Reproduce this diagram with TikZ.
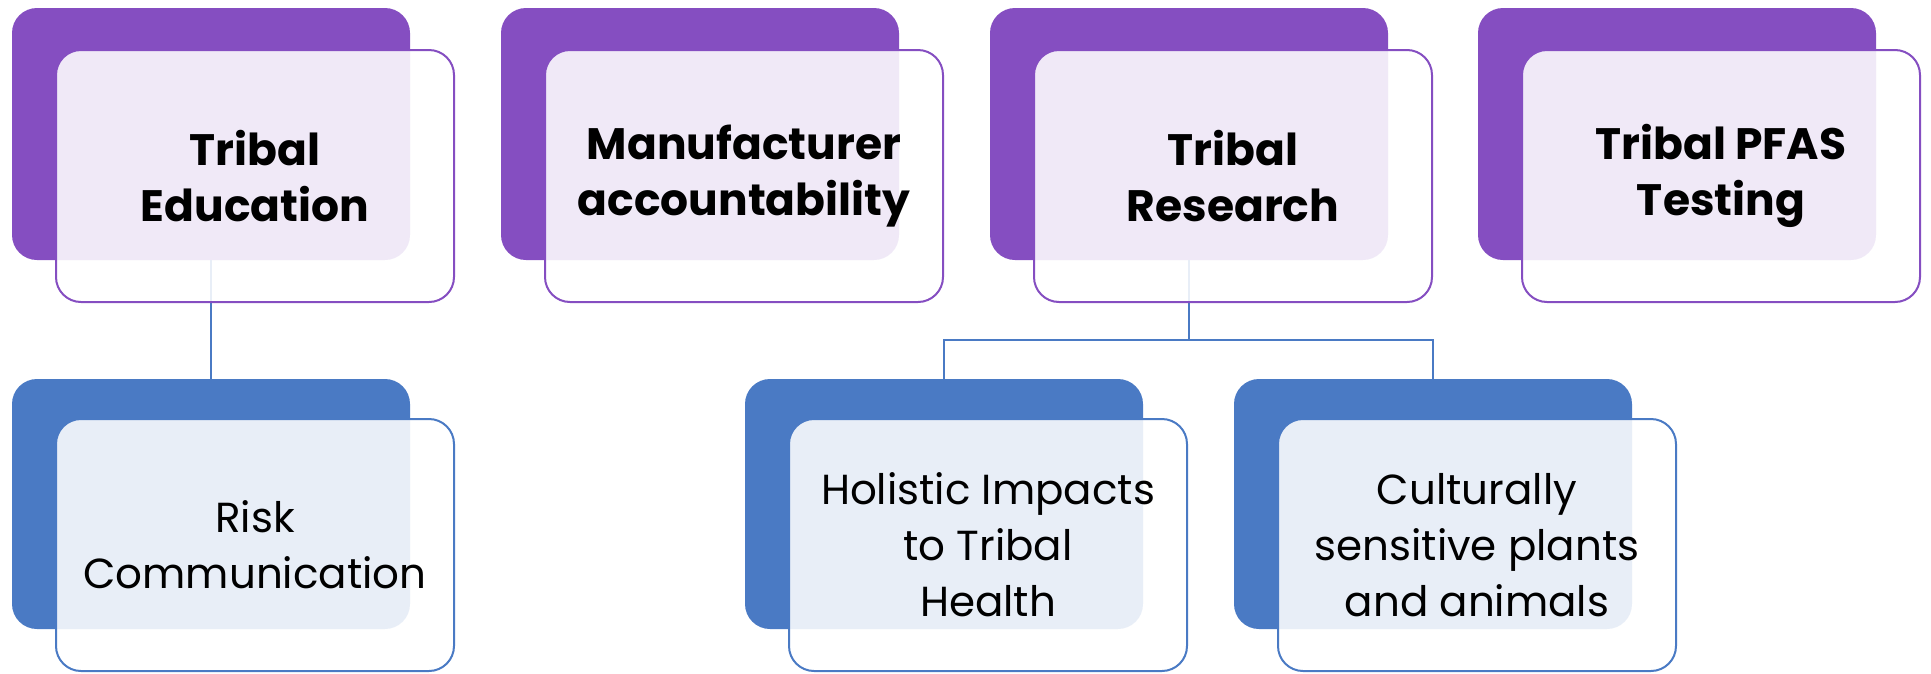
\documentclass[tikz,border=0pt]{standalone}
\usepackage{fontspec}
\setmainfont{Poppins}
\definecolor{purp}{HTML}{854EC1}
\definecolor{blu}{HTML}{4A7AC4}
\tikzset{
  backbox/.style={rounded corners=25pt, minimum width=398pt, minimum height=252pt, inner sep=0pt, draw=none},
  frontbox/.style={rounded corners=25pt, minimum width=398pt, minimum height=252pt, inner sep=0pt, line width=2pt, fill=white, fill opacity=0.88, text opacity=1, align=center, text=black},
  toptext/.style={font=\fontsize{44}{56}\selectfont\bfseries},
  bottext/.style={font=\fontsize{42}{56}\selectfont},
  conn/.style={draw=blu, line width=2pt},
}
\begin{document}
\begin{tikzpicture}[x=1pt,y=-1pt]
\useasboundingbox (0,0) rectangle (1931,673);
% back boxes
\node[backbox, fill=purp] (teb) at (211,134) {};
\node[backbox, fill=purp] (mab) at (700,134) {};
\node[backbox, fill=purp] (trb) at (1189,134) {};
\node[backbox, fill=purp] (tpb) at (1677,134) {};
\node[backbox, fill=blu, minimum height=250pt] (rcb) at (211,504) {};
\node[backbox, fill=blu, minimum height=250pt] (hib) at (944,504) {};
\node[backbox, fill=blu, minimum height=250pt] (csb) at (1433,504) {};
% connectors
\coordinate (split) at (1189,340);
\draw[conn] (teb.south) -- (rcb.north);
\draw[conn] (trb.south) -- (split) -| (hib.north);
\draw[conn] (split) -| (csb.north);
% front boxes
\node[frontbox, draw=purp, toptext] (te) at (255,176) {Tribal\\Education};
\node[frontbox, draw=purp, toptext] (ma) at (744,176) {Manufacturer\\accountability};
\node[frontbox, draw=purp, toptext] (tr) at (1233,176) {Tribal\\Research};
\node[frontbox, draw=purp, toptext] (tp) at (1721,176) {Tribal PFAS\\Testing};
\node[frontbox, draw=blu, bottext] (rc) at (255,545) {Risk\\Communication};
\node[frontbox, draw=blu, bottext] (hi) at (988,545) {Holistic Impacts\\to Tribal\\Health};
\node[frontbox, draw=blu, bottext] (cs) at (1477,545) {Culturally\\sensitive plants\\and animals};
\end{tikzpicture}
\end{document}
